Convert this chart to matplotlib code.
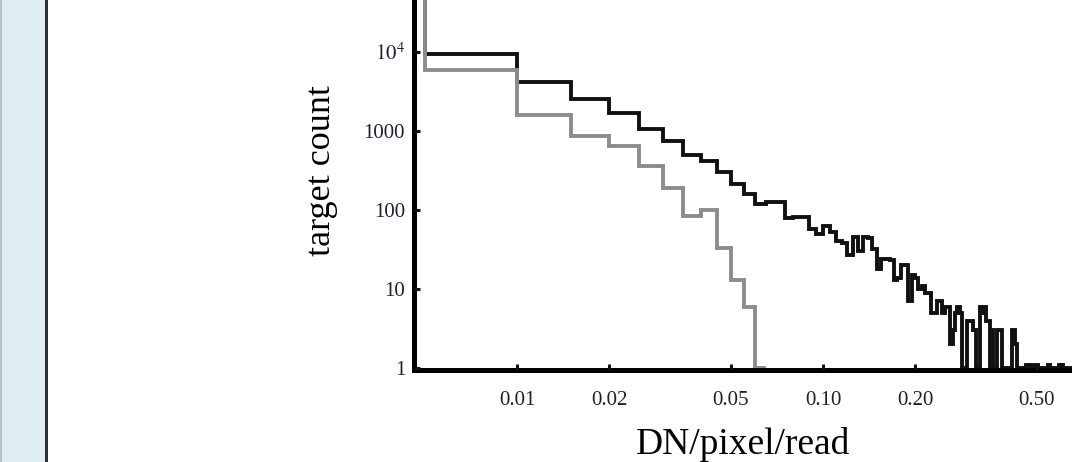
import numpy as np
import matplotlib
matplotlib.use("Agg")
from matplotlib import pyplot as plt
from matplotlib.patches import Rectangle

# histogram bins: fixed width in DN/pixel/read, first bin starts at zero
bin_width = 0.005

# counts per bin, all targets (black)
counts_all = [
    80000, 9300, 4100, 2500, 1700, 1050, 750, 490, 420, 300,
    212, 160, 120, 125, 125, 80, 82, 82, 58, 50,
    62, 52, 40, 38, 27, 45, 30, 45, 44, 32,
    18, 24, 24, 23, 13, 14, 20, 20, 7, 15,
    14, 10, 11, 9, 9, 5, 5, 7, 7, 5,
    6, 6, 2, 3, 5, 6, 5, 1, 1, 4,
    4, 4, 3, 1, 1, 6, 5, 6, 4, 4,
    1, 3, 1, 1, 3, 3, 3, 1, 1, 1,
    1, 1, 1, 3, 3, 2, 1, 1, 1, 1,
    1, 1, 1.1, 1.1, 1.1, 1, 1.1, 1.1, 1, 1,
    1.1, 1, 1, 1, 1, 1, 1, 1, 1, 1.1,
    1, 1, 1, 1, 1, 1, 1, 1, 1.1, 1.1,
    1, 1.1, 1, 1, 1, 1, 1, 1, 1, 1,
]

# counts per bin, subset (gray)
counts_sub = [80000, 5800, 1600, 860, 650, 360, 190, 85, 99, 33, 13, 6, 1]

yticks = [1, 10, 100, 1000, 10000]
ytick_labels = ["1", "10", "100", "1000", "$10^{4}$"]
xticks = [0.01, 0.02, 0.05, 0.10, 0.20, 0.50]
xtick_labels = ["0.01", "0.02", "0.05", "0.10", "0.20", "0.50"]

plt.rcParams["font.family"] = ["Liberation Serif", "DejaVu Serif"]
plt.rcParams["mathtext.fontset"] = "stix"

edges_all = np.arange(len(counts_all) + 1) * bin_width
edges_sub = np.arange(len(counts_sub) + 1) * bin_width

fig = plt.figure(figsize=(10.72, 4.62), dpi=100)

# side panel on the left
fig.patches.append(Rectangle((0, 0), 45 / 1072, 1, transform=fig.transFigure,
                             facecolor="#dfeef1", edgecolor="none", zorder=0))
fig.patches.append(Rectangle((0, 0), 1.5 / 1072, 1, transform=fig.transFigure,
                             facecolor="#b5c2c4", edgecolor="none", zorder=1))
fig.patches.append(Rectangle((45 / 1072, 0), 2.5 / 1072, 1, transform=fig.transFigure,
                             facecolor="#2e2e2e", edgecolor="none", zorder=1))

ax = fig.add_axes([413.5 / 1072, 92 / 462, 1 - 413.5 / 1072, 370 / 462])
ax.set_xscale("log")
ax.set_yscale("log")

ax.stairs(counts_all, edges_all, baseline=None, color="#111111", lw=2.8)
ax.stairs(counts_sub, edges_sub, baseline=None, color="#8c8c8c", lw=2.8)

ax.set_xlim(0.00459, 0.651)
ax.set_ylim(0.95, 10 ** (370 / 79.5))

ax.set_xticks(xticks)
ax.set_xticklabels(xtick_labels)
ax.set_yticks(yticks)
ax.set_yticklabels(ytick_labels)
ax.minorticks_off()

for side in ["top", "right"]:
    ax.spines[side].set_visible(False)
for side in ["left", "bottom"]:
    ax.spines[side].set_linewidth(3.6)
    ax.spines[side].set_zorder(1)

ax.tick_params(direction="in", length=4, width=2.2, colors="#111111",
               labelcolor="#1f1f33", labelsize=15)
ax.tick_params(axis="x", pad=15)
ax.tick_params(axis="y", pad=6)

ax.set_xlabel("DN/pixel/read", fontsize=27)
ax.xaxis.set_label_coords(0.5, -0.155)
ax.set_ylabel("target count", fontsize=26)
ax.yaxis.set_label_coords(-0.114, 0.539)

fig.savefig("out.png", dpi=100)
